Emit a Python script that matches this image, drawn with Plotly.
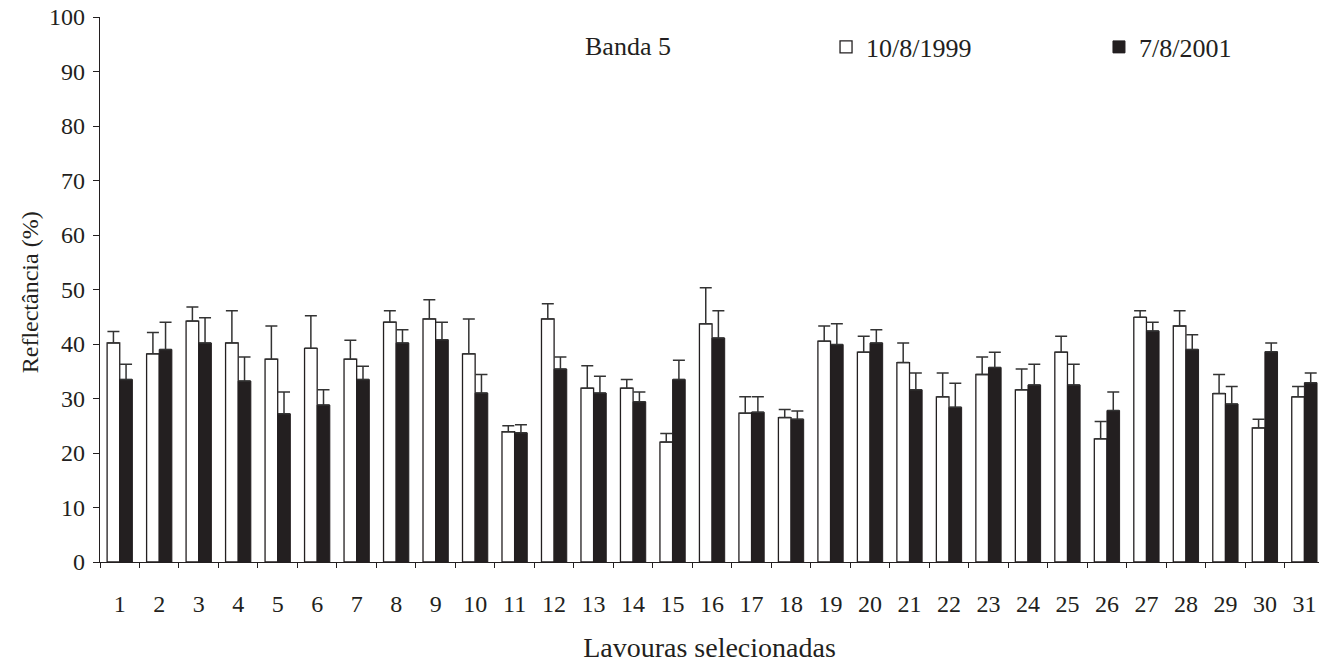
import plotly.graph_objects as go

categories = [str(i) for i in range(1, 32)]
v1999 = [40.2, 38.2, 44.2, 40.2, 37.2, 39.2, 37.2, 44.0, 44.6, 38.2, 23.9, 44.6, 31.9, 31.9, 22.0, 43.7,
         27.3, 26.5, 40.5, 38.5, 36.6, 30.3, 34.4, 31.6, 38.5, 22.6, 44.9, 43.3, 30.9, 24.6, 30.3]
e1999 = [42.3, 42.1, 46.8, 46.1, 43.3, 45.2, 40.7, 46.1, 48.1, 44.6, 25.0, 47.4, 36.0, 33.5, 23.6, 50.3,
         30.3, 28.0, 43.3, 41.4, 40.2, 34.7, 37.6, 35.4, 41.4, 25.8, 46.1, 46.1, 34.4, 26.2, 32.2]
v2001 = [33.5, 39.0, 40.2, 33.2, 27.2, 28.8, 33.5, 40.2, 40.8, 31.0, 23.7, 35.4, 31.0, 29.4, 33.5, 41.1,
         27.5, 26.2, 39.9, 40.2, 31.6, 28.4, 35.7, 32.5, 32.5, 27.8, 42.4, 39.0, 29.0, 38.6, 32.9]
e2001 = [36.3, 44.0, 44.8, 37.6, 31.2, 31.6, 35.9, 42.6, 44.0, 34.4, 25.2, 37.6, 34.1, 31.2, 37.0, 46.1,
         30.3, 27.7, 43.7, 42.6, 34.7, 32.8, 38.5, 36.3, 36.3, 31.2, 44.0, 41.7, 32.2, 40.2, 34.7]
y_ticks = list(range(0, 101, 10))

plus1999 = [e - v for e, v in zip(e1999, v1999)]
plus2001 = [e - v for e, v in zip(e2001, v2001)]

ink = "#231f20"
font = "Liberation Serif"

fig = go.Figure()
fig.add_trace(go.Bar(
    x=categories, y=v1999, name="10/8/1999", legend="legend",
    marker=dict(color="white", line=dict(color=ink, width=1.3)),
    error_y=dict(type="data", symmetric=False, array=plus1999, arrayminus=[0] * 31,
                 color="#333", thickness=1.5, width=6),
))
fig.add_trace(go.Bar(
    x=categories, y=v2001, name="7/8/2001", legend="legend2",
    marker=dict(color=ink, line=dict(color=ink, width=1)),
    error_y=dict(type="data", symmetric=False, array=plus2001, arrayminus=[0] * 31,
                 color="#333", thickness=1.5, width=6),
))

leg_common = dict(orientation="h", yanchor="middle", xanchor="left", y=0.945,
                  font=dict(family=font, size=26, color=ink), bgcolor="rgba(0,0,0,0)")

fig.update_layout(
    width=1319, height=663,
    margin=dict(l=100, r=0, t=17, b=101, autoexpand=False),
    paper_bgcolor="white", plot_bgcolor="white",
    barmode="group", bargap=0.36, bargroupgap=0,
    font=dict(family=font, size=24, color=ink),
    showlegend=True,
    legend=dict(x=0.5956, **leg_common),
    legend2=dict(x=0.8195, **leg_common),
    annotations=[
        dict(text="Banda 5", x=0.433, xref="paper", y=0.945, yref="paper",
             xanchor="center", yanchor="middle",
             showarrow=False, font=dict(family=font, size=26, color=ink)),
        dict(text="Reflectância (%)", x=-0.0574, xref="paper", y=0.495, yref="paper",
             xanchor="center", yanchor="middle", textangle=-90,
             showarrow=False, font=dict(family=font, size=24, color=ink)),
    ],
)

fig.update_xaxes(
    range=[-0.5, 30.37], showline=True, linecolor=ink, linewidth=1.3,
    ticks="outside", tickson="boundaries", ticklen=5, tickcolor=ink, tickwidth=1.3,
    ticklabelstandoff=20,
    showgrid=False, zeroline=False, tickfont=dict(family=font, size=24, color=ink),
    title=dict(text="Lavouras selecionadas", standoff=21, font=dict(family=font, size=28, color=ink)),
)
fig.update_yaxes(
    range=[0, 100], tickvals=y_ticks, showline=True, linecolor=ink, linewidth=1.3,
    ticks="outside", ticklen=6, tickcolor=ink, tickwidth=1.3, ticklabelstandoff=3,
    showgrid=False, zeroline=False, tickfont=dict(family=font, size=24, color=ink),
)

fig.write_html("out.html")
